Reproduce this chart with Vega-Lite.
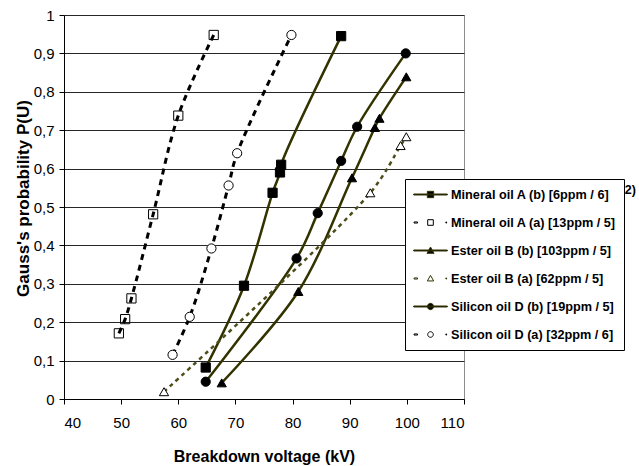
{
  "$schema": "https://vega.github.io/schema/vega-lite/v6.json",
  "autosize": {"type": "none"},
  "padding": {"left": 64, "top": 15, "right": 175, "bottom": 67},
  "width": 400,
  "height": 384,
  "background": "white",
  "config": {
    "font": "Liberation Sans",
    "view": {"stroke": "#8c8c8c", "strokeWidth": 1},
    "axis": {"labelFont": "Liberation Sans", "labelColor": "black", "labelFontSize": 15, "titleFont": "Liberation Sans", "titleColor": "black", "titleFontWeight": "bold", "domainColor": "black", "tickColor": "black", "tickSize": 5}
  },
  "datasets": {
    "pts": [
      {"series": "Mineral oil A (b) [6ppm / 6]", "v": 64.8, "p": 0.082},
      {"series": "Mineral oil A (b) [6ppm / 6]", "v": 71.5, "p": 0.295},
      {"series": "Mineral oil A (b) [6ppm / 6]", "v": 76.5, "p": 0.537},
      {"series": "Mineral oil A (b) [6ppm / 6]", "v": 77.8, "p": 0.59},
      {"series": "Mineral oil A (b) [6ppm / 6]", "v": 78.0, "p": 0.61},
      {"series": "Mineral oil A (b) [6ppm / 6]", "v": 88.5, "p": 0.945},
      {"series": "Mineral oil A (a) [13ppm / 5]", "v": 49.6, "p": 0.171},
      {"series": "Mineral oil A (a) [13ppm / 5]", "v": 50.7, "p": 0.208},
      {"series": "Mineral oil A (a) [13ppm / 5]", "v": 51.8, "p": 0.262},
      {"series": "Mineral oil A (a) [13ppm / 5]", "v": 55.6, "p": 0.481},
      {"series": "Mineral oil A (a) [13ppm / 5]", "v": 60.0, "p": 0.738},
      {"series": "Mineral oil A (a) [13ppm / 5]", "v": 66.2, "p": 0.948},
      {"series": "Ester oil B (b) [103ppm / 5]", "v": 67.6, "p": 0.042},
      {"series": "Ester oil B (b) [103ppm / 5]", "v": 81.0, "p": 0.28},
      {"series": "Ester oil B (b) [103ppm / 5]", "v": 90.4, "p": 0.576},
      {"series": "Ester oil B (b) [103ppm / 5]", "v": 94.4, "p": 0.707},
      {"series": "Ester oil B (b) [103ppm / 5]", "v": 95.2, "p": 0.731},
      {"series": "Ester oil B (b) [103ppm / 5]", "v": 99.9, "p": 0.839},
      {"series": "Ester oil B (a) [62ppm / 5]", "v": 57.5, "p": 0.019},
      {"series": "Ester oil B (a) [62ppm / 5]", "v": 93.6, "p": 0.537},
      {"series": "Ester oil B (a) [62ppm / 5]", "v": 98.9, "p": 0.66},
      {"series": "Ester oil B (a) [62ppm / 5]", "v": 99.9, "p": 0.683},
      {"series": "Silicon oil D (b) [19ppm / 5]", "v": 64.8, "p": 0.045},
      {"series": "Silicon oil D (b) [19ppm / 5]", "v": 80.7, "p": 0.366},
      {"series": "Silicon oil D (b) [19ppm / 5]", "v": 84.4, "p": 0.484},
      {"series": "Silicon oil D (b) [19ppm / 5]", "v": 88.5, "p": 0.62},
      {"series": "Silicon oil D (b) [19ppm / 5]", "v": 91.3, "p": 0.709},
      {"series": "Silicon oil D (b) [19ppm / 5]", "v": 99.8, "p": 0.9},
      {"series": "Silicon oil D (a) [32ppm / 6]", "v": 59.0, "p": 0.115},
      {"series": "Silicon oil D (a) [32ppm / 6]", "v": 62.0, "p": 0.214},
      {"series": "Silicon oil D (a) [32ppm / 6]", "v": 65.8, "p": 0.392},
      {"series": "Silicon oil D (a) [32ppm / 6]", "v": 68.8, "p": 0.556},
      {"series": "Silicon oil D (a) [32ppm / 6]", "v": 70.3, "p": 0.64},
      {"series": "Silicon oil D (a) [32ppm / 6]", "v": 79.8, "p": 0.948}
    ]
  },
  "data": {"name": "pts"},
  "encoding": {
    "x": {"field": "v", "type": "quantitative", "scale": {"domain": [40, 110], "nice": false, "zero": false},
      "axis": {"values": [40, 50, 60, 70, 80, 90, 100, 110], "grid": false, "title": "Breakdown voltage (kV)", "titleFontSize": 16, "labelPadding": 11, "titleY": 62, "titleBaseline": "alphabetic", "domainColor": "black"}},
    "y": {"field": "p", "type": "quantitative", "scale": {"domain": [0, 1], "nice": false},
      "axis": {"values": [0, 0.1, 0.2, 0.3, 0.4, 0.5, 0.6, 0.7, 0.8, 0.9, 1], "grid": true, "gridColor": "#262626", "gridWidth": 1, "title": "Gauss's probability P(U)", "titleFontSize": 17, "labelPadding": 5, "titleX": -41, "titleY": 183, "titleBaseline": "middle", "titleAngle": 270,
        "labelExpr": "datum.value == 0 ? '0' : datum.value == 1 ? '1' : replace(format(datum.value, '.1f'), '.', ',')"}}
  },
  "layer": [
    {
      "transform": [{"filter": "indexof(datum.series, '(b)') >= 0"}],
      "mark": {"type": "line", "interpolate": "catmull-rom", "stroke": "#333300", "strokeWidth": 2.5},
      "encoding": {"detail": {"field": "series", "type": "nominal"}}
    },
    {
      "transform": [{"filter": "datum.series == 'Mineral oil A (a) [13ppm / 5]' || datum.series == 'Silicon oil D (a) [32ppm / 6]'"}],
      "mark": {"type": "line", "interpolate": "catmull-rom", "stroke": "black", "strokeWidth": 3, "strokeDash": [6, 5]},
      "encoding": {"detail": {"field": "series", "type": "nominal"}}
    },
    {
      "transform": [{"filter": "datum.series == 'Ester oil B (a) [62ppm / 5]'"}],
      "mark": {"type": "line", "interpolate": "catmull-rom", "stroke": "#4d4d1a", "strokeWidth": 2.5, "strokeDash": [4, 4]},
      "encoding": {"detail": {"field": "series", "type": "nominal"}}
    },
    {
      "mark": {"type": "point", "size": 85, "strokeWidth": 1, "opacity": 1},
      "encoding": {
        "shape": {"field": "series", "type": "nominal", "legend": null,
          "scale": {"domain": ["Mineral oil A (b) [6ppm / 6]", "Mineral oil A (a) [13ppm / 5]", "Ester oil B (b) [103ppm / 5]", "Ester oil B (a) [62ppm / 5]", "Silicon oil D (b) [19ppm / 5]", "Silicon oil D (a) [32ppm / 6]"],
            "range": ["square", "square", "triangle-up", "triangle-up", "circle", "circle"]}},
        "fill": {"field": "series", "type": "nominal", "legend": null,
          "scale": {"domain": ["Mineral oil A (b) [6ppm / 6]", "Mineral oil A (a) [13ppm / 5]", "Ester oil B (b) [103ppm / 5]", "Ester oil B (a) [62ppm / 5]", "Silicon oil D (b) [19ppm / 5]", "Silicon oil D (a) [32ppm / 6]"],
            "range": ["black", "transparent", "black", "white", "black", "white"]}},
        "stroke": {"field": "series", "type": "nominal", "legend": null,
          "scale": {"domain": ["Mineral oil A (b) [6ppm / 6]", "Mineral oil A (a) [13ppm / 5]", "Ester oil B (b) [103ppm / 5]", "Ester oil B (a) [62ppm / 5]", "Silicon oil D (b) [19ppm / 5]", "Silicon oil D (a) [32ppm / 6]"],
            "range": ["black", "black", "black", "black", "black", "black"]}}
      }
    },
    {
      "transform": [{"filter": "false"}],
      "mark": {"type": "point", "strokeWidth": 1, "opacity": 1},
      "encoding": {
        "shape": {"field": "series", "type": "nominal",
          "scale": {"domain": ["Mineral oil A (b) [6ppm / 6]", "Mineral oil A (a) [13ppm / 5]", "Ester oil B (b) [103ppm / 5]", "Ester oil B (a) [62ppm / 5]", "Silicon oil D (b) [19ppm / 5]", "Silicon oil D (a) [32ppm / 6]"],
            "range": [
              "M-2.4,-0.07L2.4,-0.07L2.4,0.07L-2.4,0.07Z M-0.45,-0.45L0.45,-0.45L0.45,0.45L-0.45,0.45Z",
              "M-2.35,-0.08L-1.85,-0.08L-1.85,0.08L-2.35,0.08Z M2.2,-0.08L2.3,-0.08L2.3,0.08L2.2,0.08Z M-0.4,-0.4L0.4,-0.4L0.4,0.4L-0.4,0.4Z",
              "M-2.4,-0.07L2.4,-0.07L2.4,0.07L-2.4,0.07Z M0,-0.5L0.5,0.4L-0.5,0.4Z",
              "M-2.35,-0.08L-1.85,-0.08L-1.85,0.08L-2.35,0.08Z M2.2,-0.08L2.3,-0.08L2.3,0.08L2.2,0.08Z M0,-0.45L0.45,0.35L-0.45,0.35Z",
              "M-2.4,-0.07L2.4,-0.07L2.4,0.07L-2.4,0.07Z M0.45,0C0.45,0.25 0.25,0.45 0,0.45C-0.25,0.45 -0.45,0.25 -0.45,0C-0.45,-0.25 -0.25,-0.45 0,-0.45C0.25,-0.45 0.45,-0.25 0.45,0Z",
              "M-2.35,-0.08L-1.85,-0.08L-1.85,0.08L-2.35,0.08Z M2.2,-0.08L2.3,-0.08L2.3,0.08L2.2,0.08Z M0.4,0C0.4,0.22 0.22,0.4 0,0.4C-0.22,0.4 -0.4,0.22 -0.4,0C-0.4,-0.22 -0.22,-0.4 0,-0.4C0.22,-0.4 0.4,-0.22 0.4,0Z"
            ]},
          "legend": {"orient": "none", "legendX": 341, "legendY": 164, "title": null, "padding": 8, "strokeColor": "black", "fillColor": "white", "symbolSize": 196, "symbolStrokeWidth": 1, "symbolOffset": 10, "labelOffset": 13, "labelFont": "Liberation Sans", "labelFontWeight": "bold", "labelFontSize": 12.7, "labelColor": "black", "labelLimit": 300, "rowPadding": 13}},
        "fill": {"field": "series", "type": "nominal",
          "scale": {"domain": ["Mineral oil A (b) [6ppm / 6]", "Mineral oil A (a) [13ppm / 5]", "Ester oil B (b) [103ppm / 5]", "Ester oil B (a) [62ppm / 5]", "Silicon oil D (b) [19ppm / 5]", "Silicon oil D (a) [32ppm / 6]"],
            "range": ["black", "white", "black", "white", "black", "white"]}},
        "stroke": {"field": "series", "type": "nominal",
          "scale": {"domain": ["Mineral oil A (b) [6ppm / 6]", "Mineral oil A (a) [13ppm / 5]", "Ester oil B (b) [103ppm / 5]", "Ester oil B (a) [62ppm / 5]", "Silicon oil D (b) [19ppm / 5]", "Silicon oil D (a) [32ppm / 6]"],
            "range": ["#333300", "black", "#333300", "#333300", "#333300", "black"]}}
      }
    },
    {
      "transform": [{"filter": "datum.v == 88.5 && datum.p == 0.945"}],
      "mark": {"type": "text", "text": "(2)", "font": "Liberation Sans", "fontWeight": "bold", "fontSize": 12.5, "align": "left", "baseline": "middle", "clip": false, "fill": "black"},
      "encoding": {"x": {"datum": 137.4}, "y": {"datum": 0.545}}
    }
  ],
  "resolve": {"scale": {"shape": "independent", "fill": "independent", "stroke": "independent"}}
}
